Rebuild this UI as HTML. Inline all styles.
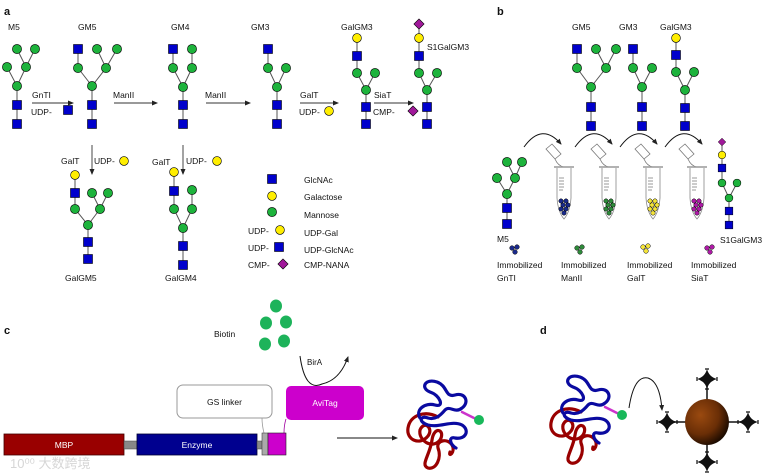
<!DOCTYPE html>
<html><head><meta charset="utf-8"><style>
html,body{margin:0;padding:0;background:#fff;}
svg{display:block;font-family:"Liberation Sans","Noto Sans CJK SC",sans-serif;}
</style></head><body>
<svg width="776" height="474" viewBox="0 0 776 474" xmlns="http://www.w3.org/2000/svg">
<defs>
<g id="s"><rect x="-4.5" y="-4.5" width="9" height="9" fill="#0000cc" stroke="#000" stroke-width="0.6"/></g>
<g id="g"><circle r="4.6" fill="#1db33c" stroke="#000" stroke-width="0.6"/></g>
<g id="y"><circle r="4.4" fill="#ffee00" stroke="#000" stroke-width="0.6"/></g>
<g id="d"><rect x="-3.6" y="-3.6" width="7.2" height="7.2" fill="#a0189a" stroke="#000" stroke-width="0.6" transform="rotate(45)"/></g>
<marker id="ah" markerWidth="6" markerHeight="6" refX="5" refY="3" orient="auto" markerUnits="userSpaceOnUse"><path d="M0,0.5 L6,3 L0,5.5z" fill="#222"/></marker>
<radialGradient id="ball" cx="0.35" cy="0.35" r="0.7"><stop offset="0" stop-color="#9a4a10"/><stop offset="0.6" stop-color="#6a2e06"/><stop offset="1" stop-color="#1a0a00"/></radialGradient>
<g id="cr"><path d="M0,-10 Q2,-2 10,0 Q2,2 0,10 Q-2,2 -10,0 Q-2,-2 0,-10Z" fill="#111"/><rect x="-4" y="-4" width="8" height="8" fill="#111" transform="rotate(45)"/><path d="M-2,-10h4M-2,10h4M-10,-2v4M10,-2v4" stroke="#111" stroke-width="1.2"/></g>
</defs>
<g font-size="8.5" fill="#111">
<text x="4" y="15" font-weight="bold" font-size="11">a</text>
<text x="497" y="15" font-weight="bold" font-size="11">b</text>
<text x="4" y="334" font-weight="bold" font-size="11">c</text>
<text x="540" y="334" font-weight="bold" font-size="11">d</text>
</g>
<g stroke="#555" stroke-width="1" fill="none">
<path d="M17 124V86L7 67M17 86L26 67L17 49M26 67L35 49"/>
<path d="M92 124V86L78 68V49M92 86L106 68L97 49M106 68L117 49"/>
<path d="M183 124V87L173 68V49M183 87L192 68V49"/>
<path d="M277 124V87L268 68V49M277 87L286 68"/>
<path d="M366 124V90L357 73V38M366 90L375 73"/>
<path d="M427 124V90L419 73V24M427 90L437 73"/>
<path d="M88 259V225L75 209V175M88 225L100 209L92 193M100 209L108 193"/>
<path d="M183 265V228L174 209V172M183 228L192 209V190"/>
<path d="M591 126V87L577 68V49M591 87L606 68L596 49M606 68L616 49"/>
<path d="M642 126V87L633 68V49M642 87L652 68"/>
<path d="M685 126V90L676 72V38M685 90L694 72"/>
<path d="M507 224V194L497 178M507 194L515 178L507 162M515 178L522 162"/>
<path d="M729 225V198L722 183V142M729 198L737 183"/>
</g>
<use href="#g" x="17" y="49"/><use href="#g" x="35" y="49"/><use href="#g" x="7" y="67"/><use href="#g" x="26" y="67"/><use href="#g" x="17" y="86"/><use href="#s" x="17" y="105"/><use href="#s" x="17" y="124"/>
<use href="#s" x="78" y="49"/><use href="#g" x="97" y="49"/><use href="#g" x="117" y="49"/><use href="#g" x="78" y="68"/><use href="#g" x="106" y="68"/><use href="#g" x="92" y="86"/><use href="#s" x="92" y="105"/><use href="#s" x="92" y="124"/>
<use href="#s" x="173" y="49"/><use href="#g" x="192" y="49"/><use href="#g" x="173" y="68"/><use href="#g" x="192" y="68"/><use href="#g" x="183" y="87"/><use href="#s" x="183" y="105"/><use href="#s" x="183" y="124"/>
<use href="#s" x="268" y="49"/><use href="#g" x="268" y="68"/><use href="#g" x="286" y="68"/><use href="#g" x="277" y="87"/><use href="#s" x="277" y="105"/><use href="#s" x="277" y="124"/>
<use href="#y" x="357" y="38"/><use href="#s" x="357" y="56"/><use href="#g" x="357" y="73"/><use href="#g" x="375" y="73"/><use href="#g" x="366" y="90"/><use href="#s" x="366" y="107"/><use href="#s" x="366" y="124"/>
<use href="#d" x="419" y="24"/><use href="#y" x="419" y="38"/><use href="#s" x="419" y="56"/><use href="#g" x="419" y="73"/><use href="#g" x="437" y="73"/><use href="#g" x="427" y="90"/><use href="#s" x="427" y="107"/><use href="#s" x="427" y="124"/>
<use href="#y" x="75" y="175"/><use href="#s" x="75" y="193"/><use href="#g" x="92" y="193"/><use href="#g" x="108" y="193"/><use href="#g" x="75" y="209"/><use href="#g" x="100" y="209"/><use href="#g" x="88" y="225"/><use href="#s" x="88" y="242"/><use href="#s" x="88" y="259"/>
<use href="#y" x="174" y="172"/><use href="#s" x="174" y="191"/><use href="#g" x="192" y="190"/><use href="#g" x="174" y="209"/><use href="#g" x="192" y="209"/><use href="#g" x="183" y="228"/><use href="#s" x="183" y="246"/><use href="#s" x="183" y="265"/>
<use href="#s" x="272" y="179"/><use href="#y" x="272" y="196"/><use href="#g" x="272" y="212"/><use href="#y" x="280" y="230"/><use href="#s" x="279" y="247"/><use href="#d" x="283" y="264"/>
<use href="#s" x="68" y="110"/><use href="#y" x="329" y="111"/><use href="#d" x="413" y="111"/><use href="#y" x="124" y="161"/><use href="#y" x="217" y="161"/>
<g stroke="#333" stroke-width="0.9" marker-end="url(#ah)">
<line x1="32" y1="103" x2="73" y2="103"/><line x1="114" y1="103" x2="157" y2="103"/><line x1="206" y1="103" x2="250" y2="103"/><line x1="300" y1="103" x2="338" y2="103"/><line x1="374" y1="103" x2="413" y2="103"/>
<line x1="92" y1="145" x2="92" y2="174"/><line x1="183" y1="145" x2="183" y2="174"/>
</g>
<g font-size="8.5" fill="#111">
<text x="8" y="30">M5</text><text x="78" y="30">GM5</text><text x="171" y="30">GM4</text><text x="251" y="30">GM3</text><text x="341" y="30">GalGM3</text><text x="427" y="50">S1GalGM3</text>
<text x="32" y="98">GnTI</text><text x="31" y="115">UDP-</text>
<text x="113" y="98">ManII</text><text x="205" y="98">ManII</text>
<text x="300" y="98">GalT</text><text x="299" y="115">UDP-</text>
<text x="374" y="98">SiaT</text><text x="373" y="115">CMP-</text>
<text x="61" y="164">GalT</text><text x="94" y="164">UDP-</text>
<text x="152" y="165">GalT</text><text x="186" y="164">UDP-</text>
<text x="65" y="281">GalGM5</text><text x="165" y="281">GalGM4</text>
<text x="304" y="183">GlcNAc</text><text x="304" y="200">Galactose</text><text x="304" y="218">Mannose</text>
<text x="248" y="234">UDP-</text><text x="304" y="236">UDP-Gal</text>
<text x="248" y="251">UDP-</text><text x="304" y="253">UDP-GlcNAc</text>
<text x="248" y="268">CMP-</text><text x="304" y="268">CMP-NANA</text>
</g>
<use href="#s" x="577" y="49"/><use href="#g" x="596" y="49"/><use href="#g" x="616" y="49"/><use href="#g" x="577" y="68"/><use href="#g" x="606" y="68"/><use href="#g" x="591" y="87"/><use href="#s" x="591" y="107"/><use href="#s" x="591" y="126"/>
<use href="#s" x="633" y="49"/><use href="#g" x="633" y="68"/><use href="#g" x="652" y="68"/><use href="#g" x="642" y="87"/><use href="#s" x="642" y="107"/><use href="#s" x="642" y="126"/>
<use href="#y" x="676" y="38"/><use href="#s" x="676" y="55"/><use href="#g" x="676" y="72"/><use href="#g" x="694" y="72"/><use href="#g" x="685" y="90"/><use href="#s" x="685" y="108"/><use href="#s" x="685" y="126"/>
<use href="#g" x="507" y="162"/><use href="#g" x="522" y="162"/><use href="#g" x="497" y="178"/><use href="#g" x="515" y="178"/><use href="#g" x="507" y="194"/><use href="#s" x="507" y="208"/><use href="#s" x="507" y="224"/>
<g transform="translate(722 142) scale(0.75)"><use href="#d"/></g>
<g transform="translate(722 155) scale(0.85)"><use href="#y"/></g>
<g transform="translate(722 168) scale(0.85)"><use href="#s"/></g>
<g transform="translate(722 183) scale(0.85)"><use href="#g"/></g><g transform="translate(737 183) scale(0.85)"><use href="#g"/></g><g transform="translate(729 198) scale(0.85)"><use href="#g"/></g>
<g transform="translate(729 211) scale(0.85)"><use href="#s"/></g><g transform="translate(729 225) scale(0.85)"><use href="#s"/></g>
<g font-size="8.5" fill="#111">
<text x="572" y="30">GM5</text><text x="619" y="30">GM3</text><text x="660" y="30">GalGM3</text>
<text x="497" y="242">M5</text><text x="720" y="243">S1GalGM3</text>
<text x="497" y="268">Immobilized</text><text x="497" y="281">GnTI</text>
<text x="561" y="268">Immobilized</text><text x="561" y="281">ManII</text>
<text x="627" y="268">Immobilized</text><text x="627" y="281">GalT</text>
<text x="691" y="268">Immobilized</text><text x="691" y="281">SiaT</text>
</g>
<g stroke="#111" stroke-width="1" fill="none" marker-end="url(#ah)">
<path d="M524 147 Q542 122 561 144"/><path d="M575 147 Q593 122 612 144"/><path d="M620 147 Q638 122 657 144"/><path d="M665 147 Q683 122 702 144"/>
</g>
<g id="tube1">
<g transform="translate(564 0)">
<path d="M-18 149 L-12 144 L-3 154 L-9 159Z" fill="#fff" stroke="#777" stroke-width="0.8"/>
<path d="M-9 159 Q-6 166 0 167" fill="none" stroke="#777" stroke-width="0.8"/>
<line x1="-10" y1="167" x2="10" y2="167" stroke="#999" stroke-width="1.6"/>
<path d="M-7 168 V198 Q-6 212 0 219 Q6 212 7 198 V168" fill="#fff" stroke="#888" stroke-width="0.8"/>
<path d="M-5 178h5M-5 181h5M-5 184h5M-5 187h5M-5 190h4" stroke="#333" stroke-width="0.6"/>
</g></g>
<g transform="translate(45 0)"><use href="#tube1"/></g>
<g transform="translate(89 0)"><use href="#tube1"/></g>
<g transform="translate(133 0)"><use href="#tube1"/></g>
<g stroke="#000" stroke-width="0.5">
<g fill="#1a2a8c"><circle cx="561" cy="201" r="2.2"/><circle cx="566" cy="201" r="2.2"/><circle cx="563" cy="205" r="2.2"/><circle cx="568" cy="205" r="2.2"/><circle cx="561" cy="209" r="2.2"/><circle cx="566" cy="209" r="2.2"/><circle cx="564" cy="213" r="2.2"/>
<circle cx="512" cy="248" r="2.3"/><circle cx="517" cy="247" r="2.3"/><circle cx="515" cy="252" r="2.3"/></g>
<g fill="#2e8b3a"><circle cx="606" cy="201" r="2.2"/><circle cx="611" cy="201" r="2.2"/><circle cx="608" cy="205" r="2.2"/><circle cx="613" cy="205" r="2.2"/><circle cx="606" cy="209" r="2.2"/><circle cx="611" cy="209" r="2.2"/><circle cx="609" cy="213" r="2.2"/>
<circle cx="577" cy="248" r="2.3"/><circle cx="582" cy="247" r="2.3"/><circle cx="580" cy="252" r="2.3"/></g>
<g fill="#f5e53a"><circle cx="650" cy="201" r="2.2"/><circle cx="655" cy="201" r="2.2"/><circle cx="652" cy="205" r="2.2"/><circle cx="657" cy="205" r="2.2"/><circle cx="650" cy="209" r="2.2"/><circle cx="655" cy="209" r="2.2"/><circle cx="653" cy="213" r="2.2"/>
<circle cx="643" cy="247" r="2.3"/><circle cx="648" cy="246" r="2.3"/><circle cx="646" cy="251" r="2.3"/></g>
<g fill="#b01aa8"><circle cx="694" cy="201" r="2.2"/><circle cx="699" cy="201" r="2.2"/><circle cx="696" cy="205" r="2.2"/><circle cx="701" cy="205" r="2.2"/><circle cx="694" cy="209" r="2.2"/><circle cx="699" cy="209" r="2.2"/><circle cx="697" cy="213" r="2.2"/>
<circle cx="707" cy="248" r="2.3"/><circle cx="712" cy="247" r="2.3"/><circle cx="710" cy="252" r="2.3"/></g>
</g>
<text x="214" y="337" font-size="8.5" fill="#111">Biotin</text>
<g fill="#1db35a"><ellipse cx="276" cy="306" rx="6" ry="6.5"/><ellipse cx="266" cy="323" rx="6" ry="6.5"/><ellipse cx="286" cy="322" rx="6" ry="6.5"/><ellipse cx="265" cy="344" rx="6" ry="6.5"/><ellipse cx="284" cy="341" rx="6" ry="6.5"/></g>
<path d="M300 356 Q305 392 322 384 Q340 380 348 357" fill="none" stroke="#111" stroke-width="1" marker-end="url(#ah)"/>
<text x="307" y="365" font-size="8" fill="#111">BirA</text>
<rect x="177" y="385" width="95" height="33" rx="6" fill="#fff" stroke="#999" stroke-width="1"/>
<text x="224.5" y="405" font-size="8.5" text-anchor="middle" fill="#111">GS linker</text>
<rect x="286" y="386" width="78" height="34" rx="5" fill="#cc00cc"/>
<text x="325" y="406" font-size="8.5" text-anchor="middle" fill="#fff">AviTag</text>
<path d="M262 418 Q262 425 264 433" fill="none" stroke="#999" stroke-width="0.8"/>
<path d="M286 419 Q284 425 284 433" fill="none" stroke="#a000a0" stroke-width="0.8"/>
<rect x="4" y="434" width="120" height="21" fill="#990000" stroke="#440000" stroke-width="0.8"/>
<text x="64" y="448" font-size="8.5" text-anchor="middle" fill="#fff">MBP</text>
<rect x="124" y="441" width="13" height="8" fill="#888" stroke="#444" stroke-width="0.5"/>
<rect x="137" y="434" width="120" height="21" fill="#00008f" stroke="#000033" stroke-width="0.8"/>
<text x="197" y="448" font-size="8.5" text-anchor="middle" fill="#fff">Enzyme</text>
<rect x="257" y="441" width="5" height="8" fill="#888" stroke="#444" stroke-width="0.5"/>
<rect x="262" y="433" width="6" height="22" fill="#aaa" stroke="#444" stroke-width="0.6"/>
<rect x="268" y="433" width="18" height="22" fill="#cc00cc" stroke="#222" stroke-width="0.6"/>
<line x1="337" y1="438" x2="397" y2="438" stroke="#111" stroke-width="1" marker-end="url(#ah)"/>
<text x="10" y="468" font-size="13" fill="#ccc" opacity="0.8">10⁰⁰ 大数跨境</text>
<g id="tg" fill="none" stroke-linecap="round" stroke-width="3.2">
<path d="M438 417 C425 410 410 415 408 428 C406 440 420 446 428 436 C434 428 424 420 420 430 C418 440 432 450 440 440 C446 430 434 425 432 440 C430 455 420 465 428 468 C436 470 442 458 438 448 C436 440 448 438 452 445 C456 452 448 458 450 452" stroke="#990000"/>
<path d="M420 418 C415 410 425 402 435 405 C445 408 440 395 430 392 C420 388 425 378 437 382 C448 386 445 398 455 395 C465 392 470 402 462 408 C455 414 450 405 445 410 C440 416 435 420 428 418 C420 415 418 422 428 425 C440 428 452 420 462 425 C470 430 466 440 455 438 C448 436 450 445 456 448" stroke="#0a0aa0"/>
<path d="M462 412 L474 418" stroke="#cc33cc" stroke-width="2.5"/>
<circle cx="479" cy="420" r="5" fill="#18b85a" stroke="none"/>
</g>
<g transform="translate(143 -5)"><use href="#tg"/></g>
<path d="M629 408 Q634 375 648 378 Q660 382 662 410" fill="none" stroke="#111" stroke-width="1" marker-end="url(#ah)"/>
<g stroke="#111" stroke-width="1.5"><line x1="707" y1="381" x2="707" y2="463"/><line x1="668" y1="422" x2="746" y2="422"/></g>
<ellipse cx="707" cy="422" rx="22" ry="23" fill="url(#ball)"/>
<use href="#cr" x="707" y="379"/><use href="#cr" x="707" y="462"/><use href="#cr" x="667" y="422"/><use href="#cr" x="748" y="422"/>
</svg>
</body></html>
